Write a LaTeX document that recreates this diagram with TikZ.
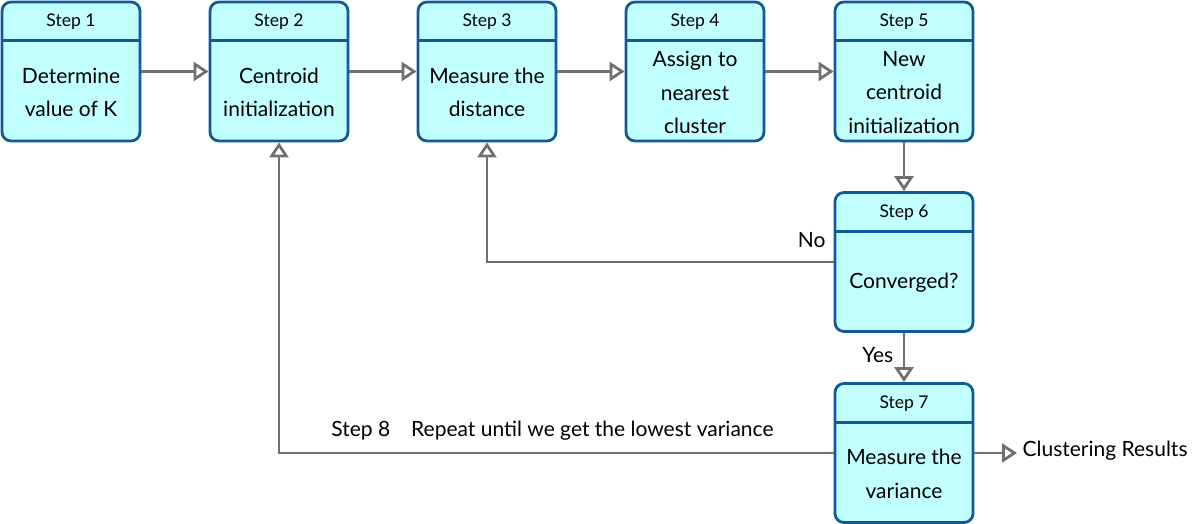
\documentclass[tikz,border=0pt]{standalone}
\usepackage{fontspec}
\setmainfont{Lato}
\usetikzlibrary{arrows.meta, positioning, calc}
\definecolor{boxline}{HTML}{0F5A9A}
\definecolor{boxfill}{HTML}{C2FFFF}
\definecolor{flowgray}{HTML}{707070}

\begin{document}
\begin{tikzpicture}[
  x=1pt, y=-1pt,
  box/.style={draw=boxline, fill=boxfill, rectangle, rounded corners=9pt, line width=2.8pt, minimum width=138pt, minimum height=139pt, inner sep=0pt},
  head/.style={font=\fontsize{17.5}{20}\selectfont, anchor=center},
  body/.style={font=\fontsize{21}{33.5}\selectfont, align=center, anchor=center},
  lbl/.style={font=\fontsize{21}{24}\selectfont},
  flow/.style={draw=flowgray, line width=2.8pt, -{Triangle[open, length=15pt, width=19pt]}}
]
\useasboundingbox (0,0) rectangle (1198,523);

% step boxes
\node[box] (s1) at (71,71.5) {};
\node[box] (s2) at (279,71.5) {};
\node[box] (s3) at (487,71.5) {};
\node[box] (s4) at (695,71.5) {};
\node[box] (s5) at (904,71.5) {};
\node[box] (s6) at (904,262) {};
\node[box] (s7) at (904,453) {};

% header dividers
\foreach \n in {s1,s2,s3,s4,s5,s6,s7}
  \draw[boxline, line width=2.8pt] ($(\n.north west)+(0,40)$) -- ($(\n.north east)+(0,40)$);

% headers
\node[head] (h1) at ($(s1.north)+(0,21.5)$) {Step 1};
\node[head] (h2) at ($(s2.north)+(0,21.5)$) {Step 2};
\node[head] (h3) at ($(s3.north)+(0,21.5)$) {Step 3};
\node[head] (h4) at ($(s4.north)+(0,21.5)$) {Step 4};
\node[head] (h5) at ($(s5.north)+(0,21.5)$) {Step 5};
\node[head] (h6) at ($(s6.north)+(0,21.5)$) {Step 6};
\node[head] (h7) at ($(s7.north)+(0,21.5)$) {Step 7};

% texts
\node[body] (t1) at ($(s1.center)+(0,21)$) {Determine\\value of K};
\node[body] (t2) at ($(s2.center)+(0,21)$) {Centroid\\initialization};
\node[body] (t3) at ($(s3.center)+(0,21)$) {Measure the\\distance};
\node[body] (t4) at ($(s4.center)+(0,21)$) {Assign to\\nearest\\cluster};
\node[body] (t5) at ($(s5.center)+(0,21)$) {New\\centroid\\initialization};
\node[body] (t6) at ($(s6.center)+(0,21)$) {Converged?};
\node[body] (t7) at ($(s7.center)+(0,21)$) {Measure the\\variance};

% connectors
\draw[flow] (s1) -- (s2);
\draw[flow] (s2) -- (s3);
\draw[flow] (s3) -- (s4);
\draw[flow] (s4) -- (s5);
\draw[flow] (s5) -- (s6);
\draw[flow] (s6) -- node[lbl, left, xshift=-6pt, yshift=2pt] (yes) {Yes} (s7);
\draw[flow] (s6.west) -- (s3.south |- s6.west) -- (s3.south);
\draw[flow] (s7.west) -- (s2.south |- s7.west) -- (s2.south);
\coordinate (res) at (1017,453);
\draw[flow] (s7.east) -- (res);

\node[lbl, anchor=west] (out) at (1019,451) {Clustering Results};
\node[lbl, anchor=east] (no) at (829,240) {No};
\node[lbl, anchor=east] (s8) at (777,431) {Step 8\hspace{1em}Repeat until we get the lowest variance};
\end{tikzpicture}
\end{document}
